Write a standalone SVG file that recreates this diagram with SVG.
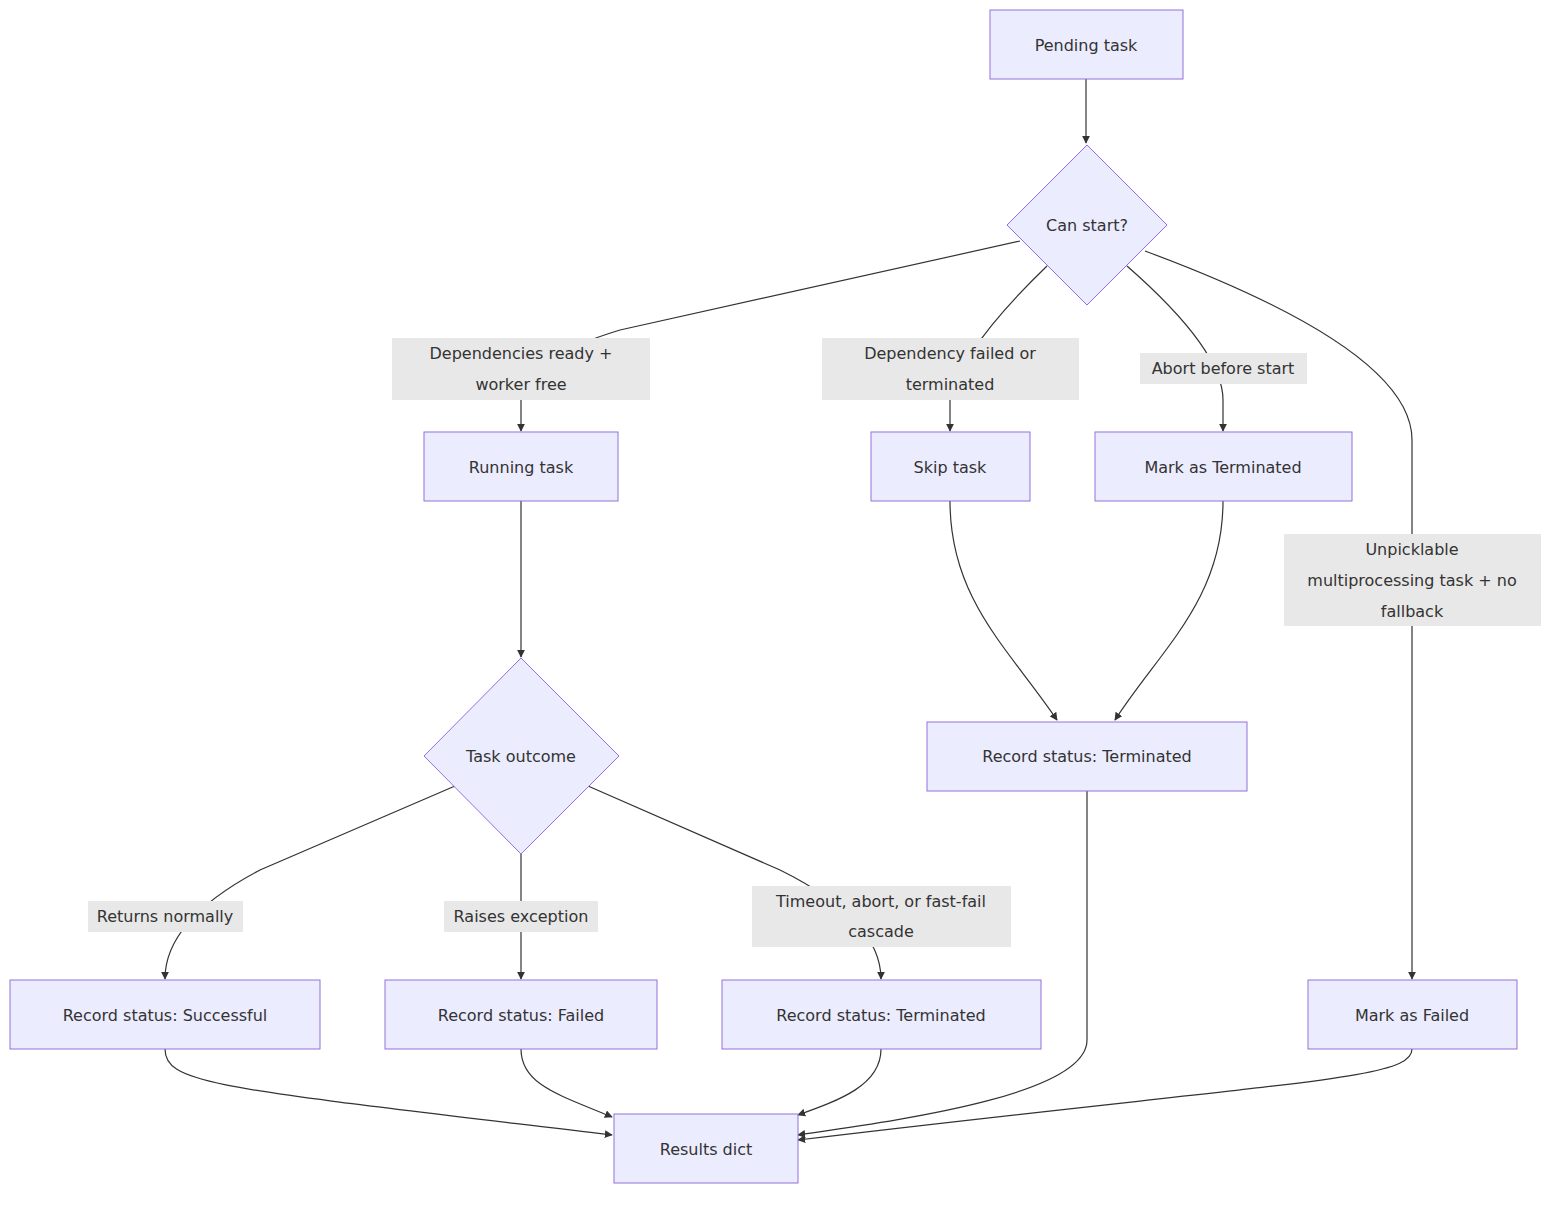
<svg xmlns="http://www.w3.org/2000/svg" width="1568" height="1208" viewBox="0 0 1568 1208">
<defs>
<marker id="ah" viewBox="0 0 10 10" refX="9" refY="5" markerWidth="8" markerHeight="8" orient="auto-start-reverse" markerUnits="userSpaceOnUse"><path d="M0,0 L10,5 L0,10 z" fill="#333"/></marker>
<style>
.n{fill:#ECECFF;stroke:#9370DB;stroke-width:1}
.t{font-family:"DejaVu Sans","Liberation Sans",sans-serif;font-size:16px;fill:#333;text-anchor:middle;dominant-baseline:central}
.e{fill:none;stroke:#333;stroke-width:1.2;marker-end:url(#ah)}
.lb{fill:#e8e8e8}
</style>
</defs>
<rect width="1568" height="1208" fill="#fff"/>
<g id="edges">
<path class="e" d="M1086,79 L1086,143"/>
<path class="e" d="M1020,241 L620,330 Q521,360 521,400 L521,431"/>
<path class="e" d="M1047,266 Q960,350 950,400 L950,431"/>
<path class="e" d="M1127,266 Q1223,350 1223,400 L1223,431"/>
<path class="e" d="M1145,251 Q1412,350 1412,440 L1412,979"/>
<path class="e" d="M521,501 L521,657"/>
<path class="e" d="M950,501 C950,600 1010,650 1057,720"/>
<path class="e" d="M1223,501 C1223,600 1160,650 1115,720"/>
<path class="e" d="M455,786 L260,870 Q165,920 165,979"/>
<path class="e" d="M521,854 L521,979"/>
<path class="e" d="M588,786 L780,870 Q881,920 881,979"/>
<path class="e" d="M165,1049 C165,1085 220,1088 612,1135"/>
<path class="e" d="M521,1049 C521,1085 560,1095 612,1117"/>
<path class="e" d="M881,1049 C881,1085 840,1100 798,1115"/>
<path class="e" d="M1087,791 L1087,1040 C1087,1095 900,1120 798,1135"/>
<path class="e" d="M1412,1049 C1412,1080 1300,1080 798,1140"/>
</g>
<g id="labels">
<rect class="lb" x="392" y="338" width="258" height="62"/><text class="t" x="521" y="353">Dependencies ready +</text><text class="t" x="521" y="384">worker free</text>
<rect class="lb" x="822" y="338" width="257" height="62"/><text class="t" x="950" y="353">Dependency failed or</text><text class="t" x="950" y="384">terminated</text>
<rect class="lb" x="1140" y="353" width="167" height="31"/><text class="t" x="1223" y="368">Abort before start</text>
<rect class="lb" x="1284" y="534" width="257" height="92"/><text class="t" x="1412" y="549">Unpicklable</text><text class="t" x="1412" y="580">multiprocessing task + no</text><text class="t" x="1412" y="611">fallback</text>
<rect class="lb" x="88" y="901" width="155" height="31"/><text class="t" x="165" y="916">Returns normally</text>
<rect class="lb" x="444" y="901" width="154" height="31"/><text class="t" x="521" y="916">Raises exception</text>
<rect class="lb" x="752" y="886" width="259" height="61"/><text class="t" x="881" y="901">Timeout, abort, or fast-fail</text><text class="t" x="881" y="931">cascade</text>
</g>
<g id="pending"><rect class="n" x="990" y="10" width="193" height="69"/><text class="t" x="1086" y="45">Pending task</text></g>
<g id="canstart"><polygon class="n" points="1087,145 1167,225 1087,305 1007,225"/><text class="t" x="1087" y="225">Can start?</text></g>
<g id="running"><rect class="n" x="424" y="432" width="194" height="69"/><text class="t" x="521" y="467">Running task</text></g>
<g id="skip"><rect class="n" x="871" y="432" width="159" height="69"/><text class="t" x="950" y="467">Skip task</text></g>
<g id="markterm"><rect class="n" x="1095" y="432" width="257" height="69"/><text class="t" x="1223" y="467">Mark as Terminated</text></g>
<g id="outcome"><polygon class="n" points="521,658 619,756 521,854 424,756"/><text class="t" x="521" y="756">Task outcome</text></g>
<g id="recterm1"><rect class="n" x="927" y="722" width="320" height="69"/><text class="t" x="1087" y="756">Record status: Terminated</text></g>
<g id="recsucc"><rect class="n" x="10" y="980" width="310" height="69"/><text class="t" x="165" y="1015">Record status: Successful</text></g>
<g id="recfail"><rect class="n" x="385" y="980" width="272" height="69"/><text class="t" x="521" y="1015">Record status: Failed</text></g>
<g id="recterm2"><rect class="n" x="722" y="980" width="319" height="69"/><text class="t" x="881" y="1015">Record status: Terminated</text></g>
<g id="markfail"><rect class="n" x="1308" y="980" width="209" height="69"/><text class="t" x="1412" y="1015">Mark as Failed</text></g>
<g id="results"><rect class="n" x="614" y="1114" width="184" height="69"/><text class="t" x="706" y="1149">Results dict</text></g>
</svg>
